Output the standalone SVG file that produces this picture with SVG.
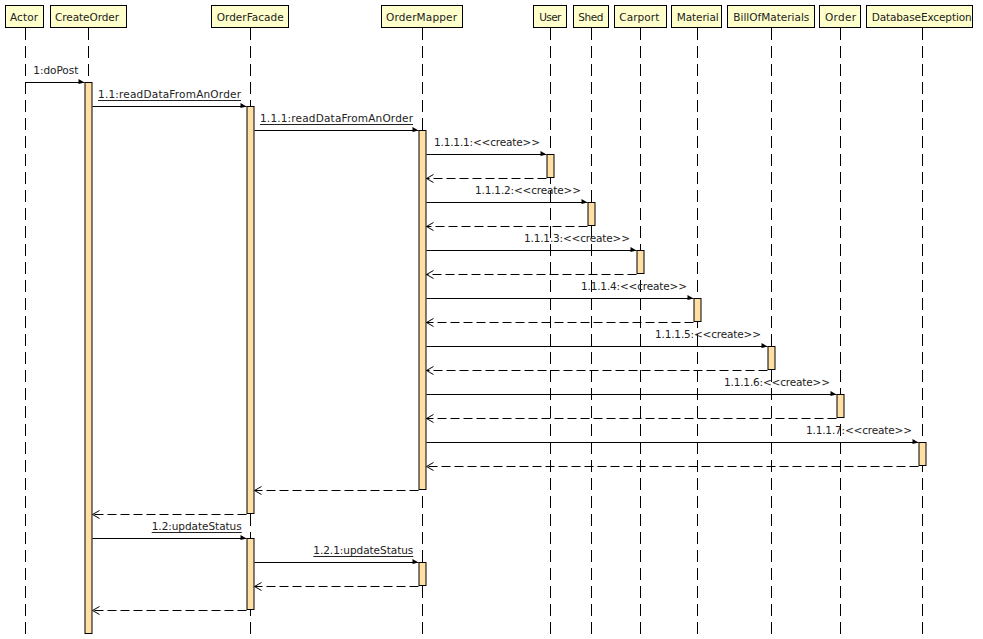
<svg xmlns="http://www.w3.org/2000/svg" width="983" height="639" viewBox="0 0 983 639">
<style>
text{font-family:"DejaVu Sans","Liberation Sans",sans-serif;font-size:10.5px;fill:#222}
.hd{fill:#ffffcc;stroke:#000;stroke-width:1}
.ll{stroke:#000;stroke-width:1;stroke-dasharray:12 6;fill:none}
.bar{fill:#ffdfa3;stroke:#000;stroke-width:1}
.msg{stroke:#000;stroke-width:1;fill:none;marker-end:url(#fa)}
.ret{stroke:#000;stroke-width:1;fill:none;stroke-dasharray:9 4;marker-end:url(#oa)}
.ul{stroke:#222;stroke-width:1}
</style>
<defs>
<marker id="fa" markerUnits="userSpaceOnUse" viewBox="0 -5 7 8" refX="6" refY="0" markerWidth="7" markerHeight="8" orient="auto" overflow="visible">
<path d="M0,-3.5 L6,0 L0,1.5 z" fill="#000" stroke="none"/>
</marker>
<marker id="oa" markerUnits="userSpaceOnUse" viewBox="-1 -5 9 10" refX="7" refY="0" markerWidth="9" markerHeight="10" orient="auto" overflow="visible">
<path d="M0,-4 L7,0 L0,4" fill="none" stroke="#000" stroke-width="1" stroke-dasharray="none"/>
</marker>
</defs>

<g id="actor">
<line class="ll" x1="25.5" y1="28" x2="25.5" y2="639"/>
<rect class="hd" x="5.5" y="5.5" width="38" height="22"/>
<text x="10" y="20.5" textLength="28">Actor</text>
</g>
<g id="createorder">
<line class="ll" x1="88.5" y1="28" x2="88.5" y2="639"/>
<rect class="hd" x="50.5" y="5.5" width="76" height="22"/>
<text x="55" y="20.5" textLength="64">CreateOrder</text>
<rect class="bar" x="85" y="82.5" width="7" height="551"/>
</g>
<g id="orderfacade">
<line class="ll" x1="250.5" y1="28" x2="250.5" y2="639"/>
<rect class="hd" x="211.5" y="5.5" width="77" height="22"/>
<text x="216.7" y="20.5" textLength="67">OrderFacade</text>
<rect class="bar" x="247" y="106.5" width="7" height="407"/>
<rect class="bar" x="247" y="538.5" width="7" height="71"/>
</g>
<g id="ordermapper">
<line class="ll" x1="422.5" y1="28" x2="422.5" y2="639"/>
<rect class="hd" x="381.5" y="5.5" width="81" height="22"/>
<text x="386" y="20.5" textLength="71">OrderMapper</text>
<rect class="bar" x="419" y="130.5" width="7" height="359"/>
<rect class="bar" x="419" y="562.5" width="7" height="23"/>
</g>
<g id="user">
<line class="ll" x1="550.5" y1="28" x2="550.5" y2="639"/>
<rect class="hd" x="533.5" y="5.5" width="33" height="22"/>
<text x="539.3" y="20.5" textLength="22">User</text>
<rect class="bar" x="547" y="154.5" width="7" height="23"/>
</g>
<g id="shed">
<line class="ll" x1="591.5" y1="28" x2="591.5" y2="639"/>
<rect class="hd" x="573.5" y="5.5" width="35" height="22"/>
<text x="578.3" y="20.5" textLength="25">Shed</text>
<rect class="bar" x="588" y="202.5" width="7" height="23"/>
</g>
<g id="carport">
<line class="ll" x1="640.5" y1="28" x2="640.5" y2="639"/>
<rect class="hd" x="614.5" y="5.5" width="52" height="22"/>
<text x="619.3" y="20.5" textLength="40">Carport</text>
<rect class="bar" x="637" y="250.5" width="7" height="23"/>
</g>
<g id="material">
<line class="ll" x1="697.5" y1="28" x2="697.5" y2="639"/>
<rect class="hd" x="671.5" y="5.5" width="50" height="22"/>
<text x="676.7" y="20.5" textLength="42">Material</text>
<rect class="bar" x="694" y="298.5" width="7" height="23"/>
</g>
<g id="billofmaterials">
<line class="ll" x1="771.5" y1="28" x2="771.5" y2="639"/>
<rect class="hd" x="727.5" y="5.5" width="87" height="22"/>
<text x="733.3" y="20.5" textLength="76">BillOfMaterials</text>
<rect class="bar" x="768" y="346.5" width="7" height="23"/>
</g>
<g id="order">
<line class="ll" x1="840.5" y1="28" x2="840.5" y2="639"/>
<rect class="hd" x="819.5" y="5.5" width="41" height="22"/>
<text x="825" y="20.5" textLength="31">Order</text>
<rect class="bar" x="837" y="394.5" width="7" height="23"/>
</g>
<g id="databaseexception">
<line class="ll" x1="922.5" y1="28" x2="922.5" y2="639"/>
<rect class="hd" x="866.5" y="5.5" width="106" height="22"/>
<text x="871.7" y="20.5" textLength="100">DatabaseException</text>
<rect class="bar" x="919" y="442.5" width="7" height="23"/>
</g>

<g id="connectors">
<line class="msg" x1="25.5" y1="82.5" x2="84.5" y2="82.5"/>
<text x="33.3" y="74" textLength="45">1:doPost</text>

<line class="msg" x1="92.5" y1="106.5" x2="246.5" y2="106.5"/>
<text x="98" y="97.5" textLength="143">1.1:readDataFromAnOrder</text>
<line class="ul" x1="98" y1="100.5" x2="241" y2="100.5"/>

<line class="msg" x1="254.5" y1="130.5" x2="418.5" y2="130.5"/>
<text x="260" y="121.5" textLength="153">1.1.1:readDataFromAnOrder</text>
<line class="ul" x1="260" y1="124.5" x2="413" y2="124.5"/>

<line class="msg" x1="426.5" y1="154.5" x2="546.5" y2="154.5"/>
<text x="540" y="145.5" text-anchor="end" textLength="106">1.1.1.1:&lt;&lt;create&gt;&gt;</text>
<line class="ret" x1="546.5" y1="178.5" x2="426.5" y2="178.5"/>

<line class="msg" x1="426.5" y1="202.5" x2="587.5" y2="202.5"/>
<text x="581" y="193.5" text-anchor="end" textLength="106">1.1.1.2:&lt;&lt;create&gt;&gt;</text>
<line class="ret" x1="587.5" y1="226.5" x2="426.5" y2="226.5"/>

<line class="msg" x1="426.5" y1="250.5" x2="636.5" y2="250.5"/>
<text x="630" y="241.5" text-anchor="end" textLength="106">1.1.1.3:&lt;&lt;create&gt;&gt;</text>
<line class="ret" x1="636.5" y1="274.5" x2="426.5" y2="274.5"/>

<line class="msg" x1="426.5" y1="298.5" x2="693.5" y2="298.5"/>
<text x="687" y="289.5" text-anchor="end" textLength="106">1.1.1.4:&lt;&lt;create&gt;&gt;</text>
<line class="ret" x1="693.5" y1="322.5" x2="426.5" y2="322.5"/>

<line class="msg" x1="426.5" y1="346.5" x2="767.5" y2="346.5"/>
<text x="761" y="337.5" text-anchor="end" textLength="106">1.1.1.5:&lt;&lt;create&gt;&gt;</text>
<line class="ret" x1="767.5" y1="370.5" x2="426.5" y2="370.5"/>

<line class="msg" x1="426.5" y1="394.5" x2="836.5" y2="394.5"/>
<text x="830" y="385.5" text-anchor="end" textLength="106">1.1.1.6:&lt;&lt;create&gt;&gt;</text>
<line class="ret" x1="836.5" y1="418.5" x2="426.5" y2="418.5"/>

<line class="msg" x1="426.5" y1="442.5" x2="918.5" y2="442.5"/>
<text x="912" y="433.5" text-anchor="end" textLength="106">1.1.1.7:&lt;&lt;create&gt;&gt;</text>
<line class="ret" x1="918.5" y1="466.5" x2="426.5" y2="466.5"/>

<line class="ret" x1="418.5" y1="490.5" x2="254.5" y2="490.5"/>
<line class="ret" x1="246.5" y1="514.5" x2="92.5" y2="514.5"/>

<line class="msg" x1="92.5" y1="538.5" x2="246.5" y2="538.5"/>
<text x="151.7" y="529.5" textLength="90">1.2:updateStatus</text>
<line class="ul" x1="151.7" y1="532.5" x2="241.7" y2="532.5"/>

<line class="msg" x1="254.5" y1="562.5" x2="418.5" y2="562.5"/>
<text x="313.3" y="553.5" textLength="100">1.2.1:updateStatus</text>
<line class="ul" x1="313.3" y1="556.5" x2="413.3" y2="556.5"/>

<line class="ret" x1="418.5" y1="586.5" x2="254.5" y2="586.5"/>
<line class="ret" x1="246.5" y1="610.5" x2="92.5" y2="610.5"/>
</g>
</svg>
